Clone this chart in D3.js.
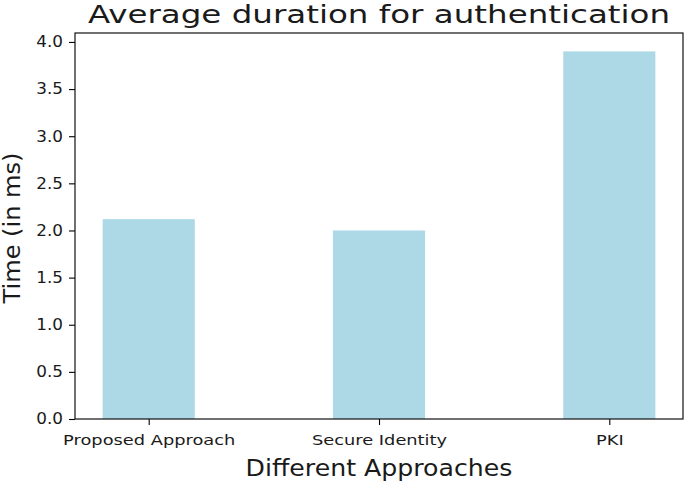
<!DOCTYPE html>
<html>
<head>
<meta charset="utf-8">
<script src="https://cdn.jsdelivr.net/npm/d3@7"></script>
<style>
  body { margin: 0; background: #fff; }
  svg text { font-family: "DejaVu Sans", sans-serif; fill: #1a1a1a; }
</style>
</head>
<body>
<script>
(function() {
    "use strict";
    // chart data
    var categories = ["Proposed Approach", "Secure Identity", "PKI"];
    var durations = [2.12, 2.0, 3.9];
    var yTicks = [0.0, 0.5, 1.0, 1.5, 2.0, 2.5, 3.0, 3.5, 4.0];

    var WIDTH = 685, HEIGHT = 482;
    var LEFT = 75, TOP = 33, RIGHT = 683, BOTTOM = 419;
    var BAR_WIDTH = 0.4;

    var svg = d3.select("body").append("svg")
        .attr("width", WIDTH)
        .attr("height", HEIGHT);

    //the source renders its text a bit wider than DejaVu does, stretch to match
    function widen(sel, factor) {
        sel.each(function() {
            var w = this.getComputedTextLength();
            d3.select(this).attr("textLength", w * factor).attr("lengthAdjust", "spacingAndGlyphs");
        });
    }

    // matplotlib style x range: bars of width 0.4 plus 5% margins
    var lo = -BAR_WIDTH / 2, hi = categories.length - 1 + BAR_WIDTH / 2;
    var pad = (hi - lo) * 0.05;
    var x = d3.scaleLinear().domain([lo - pad, hi + pad]).range([LEFT, RIGHT]);
    var y = d3.scaleLinear().domain([0, d3.max(durations) * 1.05]).range([BOTTOM, TOP]);

    svg.selectAll("rect.bar")
        .data(durations)
        .enter()
        .append("rect")
        .attr("class", "bar")
        .attr("fill", "#add8e6")
        .attr("x", function(d, i) { return x(i - BAR_WIDTH / 2); })
        .attr("width", function(d, i) { return x(i + BAR_WIDTH / 2) - x(i - BAR_WIDTH / 2); })
        .attr("y", function(d) { return y(d); })
        .attr("height", function(d) { return y(0) - y(d); });

    // y axis
    var yAxis = d3.axisLeft(y).tickValues(yTicks).tickFormat(d3.format(".1f")).tickSize(6).tickPadding(6);
    var gy = svg.append("g").attr("transform", "translate(" + LEFT + ",0)").call(yAxis);
    gy.select(".domain").remove();
    gy.selectAll("text").style("font-size", "15px").style("font-family", "DejaVu Sans").attr("fill", "#1a1a1a");
    gy.selectAll("line").attr("stroke", "#000").attr("stroke-width", 1.1);
    widen(gy.selectAll("text"), 1.12);

    // x axis
    var xAxis = d3.axisBottom(x).tickValues(d3.range(categories.length))
        .tickFormat(function(i) { return categories[i]; }).tickSize(6);
    var gx = svg.append("g").attr("transform", "translate(0," + BOTTOM + ")").call(xAxis);
    gx.select(".domain").remove();
    gx.selectAll("text").style("font-size", "14.6px").style("font-family", "DejaVu Sans")
        .attr("fill", "#1a1a1a").attr("y", 26).attr("dy", 0);
    gx.selectAll("line").attr("stroke", "#000").attr("stroke-width", 1.1);
    widen(gx.selectAll("text"), 1.22);

    // frame
    svg.append("rect")
        .attr("x", LEFT).attr("y", TOP)
        .attr("width", RIGHT - LEFT).attr("height", BOTTOM - TOP)
        .attr("fill", "none").attr("stroke", "#111").attr("stroke-width", 1.2);

    // titles
    var title = svg.append("text")
        .attr("x", (LEFT + RIGHT) / 2).attr("y", 22.5)
        .attr("text-anchor", "middle")
        .style("font-size", "25px")
        .text("Average duration for authentication");
    widen(title, 1.3);

    var xLabel = svg.append("text")
        .attr("x", (LEFT + RIGHT) / 2).attr("y", 476)
        .attr("text-anchor", "middle")
        .style("font-size", "22.5px")
        .text("Different Approaches");
    widen(xLabel, 1.12);

    var yLabel = svg.append("text")
        .attr("transform", "translate(19.5," + ((TOP + BOTTOM) / 2 + 2) + ") rotate(-90)")
        .attr("text-anchor", "middle")
        .style("font-size", "22.5px")
        .text("Time (in ms)");
    widen(yLabel, 1.07);
}());
</script>
</body>
</html>
